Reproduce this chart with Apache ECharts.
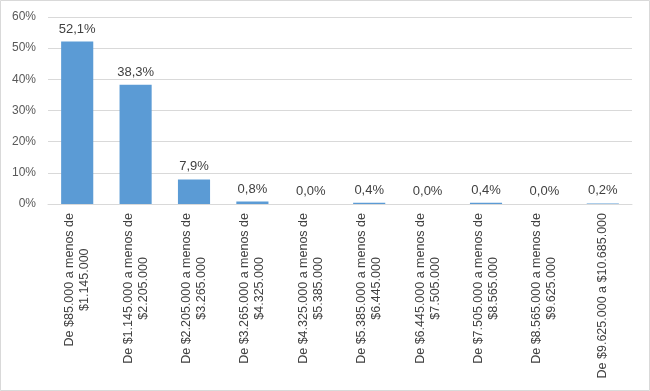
<!DOCTYPE html>
<html>
<head>
<meta charset="utf-8">
<script src="https://cdn.jsdelivr.net/npm/echarts@6/dist/echarts.min.js"></script>
<style>
html,body{margin:0;padding:0;background:#fff;}
#chart{width:650px;height:391px;}
</style>
</head>
<body>
<div id="chart"></div>
<script>
const categories = [
  ["De $85.000 a menos de", "$1.145.000"],
  ["De $1.145.000 a menos de", "$2.205.000"],
  ["De $2.205.000 a menos de", "$3.265.000"],
  ["De $3.265.000 a menos de", "$4.325.000"],
  ["De $4.325.000 a menos de", "$5.385.000"],
  ["De $5.385.000 a menos de", "$6.445.000"],
  ["De $6.445.000 a menos de", "$7.505.000"],
  ["De $7.505.000 a menos de", "$8.565.000"],
  ["De $8.565.000 a menos de", "$9.625.000"],
  ["De $9.625.000 a $10.685.000"]
];
const values = [52.1, 38.3, 7.9, 0.8, 0.0, 0.4, 0.0, 0.4, 0.0, 0.2];
const yTicks = [0, 10, 20, 30, 40, 50, 60];

const chart = echarts.init(document.getElementById('chart'), null, {renderer: 'canvas'});
const font = '"Liberation Sans", Arial, sans-serif';
chart.setOption({
  animation: false,
  backgroundColor: '#ffffff',
  graphic: [{
    type: 'rect', silent: true,
    shape: {x: 0.5, y: 0.5, width: 649, height: 390},
    style: {fill: 'none', stroke: '#d9d9d9', lineWidth: 1}
  }],
  grid: {left: 48, right: 18, top: 17, bottom: 187, containLabel: false},
  xAxis: {
    type: 'category',
    data: categories.map(c => c.join('\n')),
    axisLine: {show: true, lineStyle: {color: '#d9d9d9', width: 1}},
    axisTick: {show: false},
    axisLabel: {
      interval: 0,
      rotate: 90,
      margin: 9,
      color: '#404040',
      fontFamily: font,
      fontSize: 12.5,
      lineHeight: 15,
      formatter: function (v) {
        return v.split('\n').map(s => '{c|' + s + '}').join('\n');
      },
      rich: {c: {align: 'center', fontFamily: font, fontSize: 12.5, color: '#404040', lineHeight: 15}}
    }
  },
  yAxis: {
    type: 'value',
    min: yTicks[0],
    max: yTicks[yTicks.length - 1],
    interval: 10,
    axisLine: {show: false},
    axisTick: {show: false},
    splitLine: {lineStyle: {color: '#d9d9d9', width: 1}},
    axisLabel: {
      margin: 12,
      color: '#595959',
      fontFamily: font,
      fontSize: 12,
      formatter: v => v + '%'
    }
  },
  series: [{
    type: 'bar',
    data: values,
    barWidth: '55%',
    itemStyle: {color: '#5b9bd5'},
    label: {
      show: true,
      position: 'top',
      distance: 6,
      color: '#404040',
      fontFamily: font,
      fontSize: 13,
      formatter: p => p.value.toFixed(1).replace('.', ',') + '%'
    }
  }]
});
</script>
</body>
</html>
